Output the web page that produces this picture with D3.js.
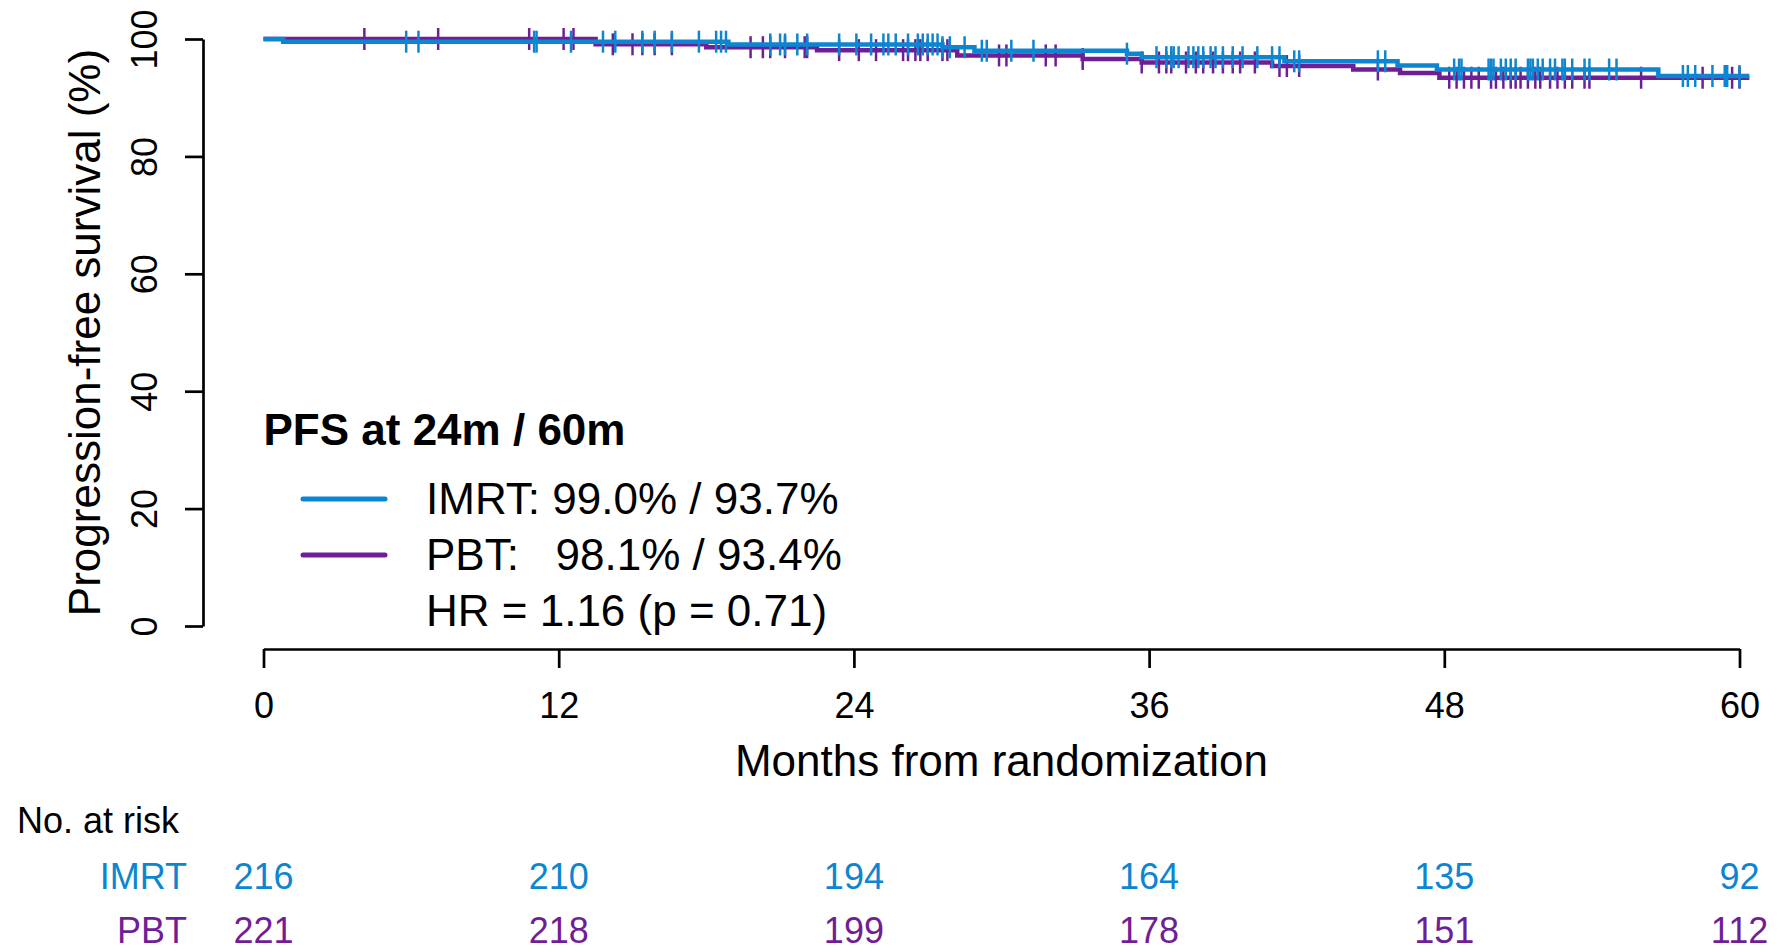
<!DOCTYPE html>
<html>
<head>
<meta charset="utf-8">
<script src="https://cdn.jsdelivr.net/npm/d3@7"></script>
<style>
  body { margin: 0; background: #fff; }
  svg { display: block; font-family: "Liberation Sans", Arial, sans-serif; }
</style>
</head>
<body>
<svg width="1781" height="952"></svg>
<script>
// ---- data ----
const xTicks = [0, 12, 24, 36, 48, 60];
const yTicks = [0, 20, 40, 60, 80, 100];

// Kaplan-Meier steps (months, survival %)
const imrtTimes = [0, 0.8, 18.9, 27.6, 28.9, 35.1, 35.7, 41.5, 46.1, 47.7, 56.7];
const imrtSurv  = [100, 99.54, 99.07, 98.6, 98.0, 97.5, 96.9, 96.2, 95.5, 94.8, 93.7];
const imrtEnd = 60.4;

const pbtTimes = [0, 13.5, 18.0, 22.5, 28.2, 33.3, 35.7, 41.0, 44.3, 46.2, 47.8];
const pbtSurv  = [100, 99.1, 98.6, 98.1, 97.2, 96.6, 96.0, 95.4, 94.8, 94.2, 93.4];
const pbtEnd = 60.4;

// censored observations (months)
const imrtCensor = [5.8, 6.3, 11.0, 11.1, 12.5, 13.8, 14.3, 15.4, 15.9, 16.6, 17.7, 18.4, 18.6, 18.8,
  20.6, 21.0, 21.2, 21.7, 22.1, 23.4, 24.1, 24.7, 25.2, 25.4, 25.7, 26.2, 26.6, 26.8, 27.0, 27.2,
  27.4, 27.6, 27.9, 28.5, 29.2, 29.4, 30.4, 31.3, 35.1, 36.3, 36.7, 36.9, 37.0, 37.2, 37.6, 37.8,
  38.0, 38.2, 38.5, 38.7, 39.0, 39.4, 39.8, 40.4, 41.0, 41.3, 41.9, 42.1, 45.3, 45.6, 48.4, 48.6,
  48.7, 49.8, 49.9, 50.0, 50.3, 50.5, 50.7, 50.9, 51.4, 51.5, 51.6, 51.8, 52.0, 52.3, 52.5, 52.8,
  52.9, 53.2, 53.7, 53.9, 54.7, 55.0, 57.7, 57.9, 58.2, 58.9, 59.4, 59.5, 60.0];
const pbtCensor = [4.1, 7.1, 10.8, 12.2, 12.6, 14.2, 15.0, 15.4, 15.9, 16.6, 19.8, 20.3, 20.6, 21.2,
  22.0, 22.1, 23.4, 24.2, 24.9, 26.0, 26.2, 26.5, 26.7, 27.0, 27.6, 27.8, 29.9, 30.2, 31.8, 32.2,
  33.3, 35.7, 36.4, 36.7, 36.9, 37.5, 37.9, 38.2, 38.6, 39.0, 39.4, 39.7, 40.3, 41.3, 41.6, 42.1,
  45.3, 48.2, 48.5, 48.8, 49.1, 49.4, 49.9, 50.1, 50.4, 50.7, 50.9, 51.1, 51.4, 51.7, 51.9, 52.3,
  52.6, 52.9, 53.2, 53.7, 53.9, 56.0, 58.5, 59.7, 60.0];

const riskIMRT = [216, 210, 194, 164, 135, 92];
const riskPBT  = [221, 218, 199, 178, 151, 112];

const blue = "#0c86d1", purple = "#701e96";

// ---- layout ----
const svg = d3.select("svg");
const x = d3.scaleLinear().domain([0, 60]).range([263.5, 1739.5]);
const y = d3.scaleLinear().domain([0, 100]).range([626, 39]);

// x axis
const xAxis = svg.append("g")
    .attr("transform", "translate(0,649)")
    .call(d3.axisBottom(x).tickValues(xTicks).tickSize(19).tickSizeOuter(0).tickPadding(10));
xAxis.selectAll("path, line").attr("stroke", "#000").attr("stroke-width", 2.7);
xAxis.selectAll("text").attr("font-size", 36).attr("font-family", null).attr("fill", "#000")
    .attr("dy", null).attr("y", 69);

// y axis
const yAxis = svg.append("g")
    .attr("transform", "translate(203,0)")
    .call(d3.axisLeft(y).tickValues(yTicks).tickSize(18).tickSizeOuter(0));
yAxis.selectAll("path, line").attr("stroke", "#000").attr("stroke-width", 2.7);
yAxis.selectAll("text").attr("font-size", 36).attr("font-family", null).attr("fill", "#000")
    .attr("x", null).attr("dy", null).attr("text-anchor", "middle")
    .attr("transform", "translate(-46,0) rotate(-90)");

// axis titles
svg.append("text")
    .attr("x", (x(0) + x(60)) / 2).attr("y", 776)
    .attr("text-anchor", "middle").attr("font-size", 44)
    .text("Months from randomization");

svg.append("text")
    .attr("transform", `translate(100,${(y(0) + y(100)) / 2}) rotate(-90)`)
    .attr("text-anchor", "middle").attr("font-size", 44)
    .text("Progression-free survival (%)");

// KM curves
function stepFn(times, surv) {
  const bis = d3.bisector(d => d).right;
  return t => surv[Math.max(0, bis(times, t) - 1)];
}

const line = d3.line().curve(d3.curveStepAfter)
    .x(d => x(d[0])).y(d => y(d[1]));

function drawGroup(times, surv, end, censor, color) {
  const pts = times.map((t, i) => [t, surv[i]]);
  pts.push([end, surv[surv.length - 1]]);
  const g = svg.append("g");
  g.append("path")
      .attr("d", line(pts))
      .attr("fill", "none").attr("stroke", color).attr("stroke-width", 4.5);
  const s = stepFn(times, surv);
  g.selectAll("line.cens")
    .data(censor)
    .enter().append("line")
      .attr("class", "cens")
      .attr("x1", d => x(d)).attr("x2", d => x(d))
      .attr("y1", d => y(s(d)) - 11).attr("y2", d => y(s(d)) + 11)
      .attr("stroke", color).attr("stroke-width", 2.5);
}

drawGroup(pbtTimes, pbtSurv, pbtEnd, pbtCensor, purple);
drawGroup(imrtTimes, imrtSurv, imrtEnd, imrtCensor, blue);

// legend
const leg = svg.append("g");
leg.append("text")
    .attr("x", 263.5).attr("y", 445)
    .attr("font-size", 44).attr("font-weight", "bold")
    .text("PFS at 24m / 60m");

const legRows = [
  { label: "IMRT: 99.0% / 93.7%", color: blue },
  { label: "PBT:   98.1% / 93.4%", color: purple },
  { label: "HR = 1.16 (p = 0.71)", color: null }
];
legRows.forEach((r, i) => {
  const by = 514 + i * 56;
  if (r.color) {
    leg.append("line")
        .attr("x1", 303).attr("x2", 385)
        .attr("y1", by - 15).attr("y2", by - 15)
        .attr("stroke", r.color).attr("stroke-width", 5)
        .attr("stroke-linecap", "round");
  }
  leg.append("text")
      .attr("x", 426).attr("y", by)
      .attr("font-size", 44)
      .style("white-space", "pre")
      .text(r.label);
});

// risk table
svg.append("text")
    .attr("x", 17).attr("y", 833).attr("font-size", 36)
    .text("No. at risk");

[["IMRT", riskIMRT, blue, 889], ["PBT", riskPBT, purple, 943]].forEach(([name, vals, color, by]) => {
  svg.append("text")
      .attr("x", 187).attr("y", by).attr("text-anchor", "end")
      .attr("font-size", 36).attr("fill", color)
      .text(name);
  svg.append("g").selectAll("text")
    .data(vals)
    .enter().append("text")
      .attr("x", (d, i) => x(xTicks[i])).attr("y", by)
      .attr("text-anchor", "middle").attr("font-size", 36).attr("fill", color)
      .text(d => d);
});
</script>
</body>
</html>
